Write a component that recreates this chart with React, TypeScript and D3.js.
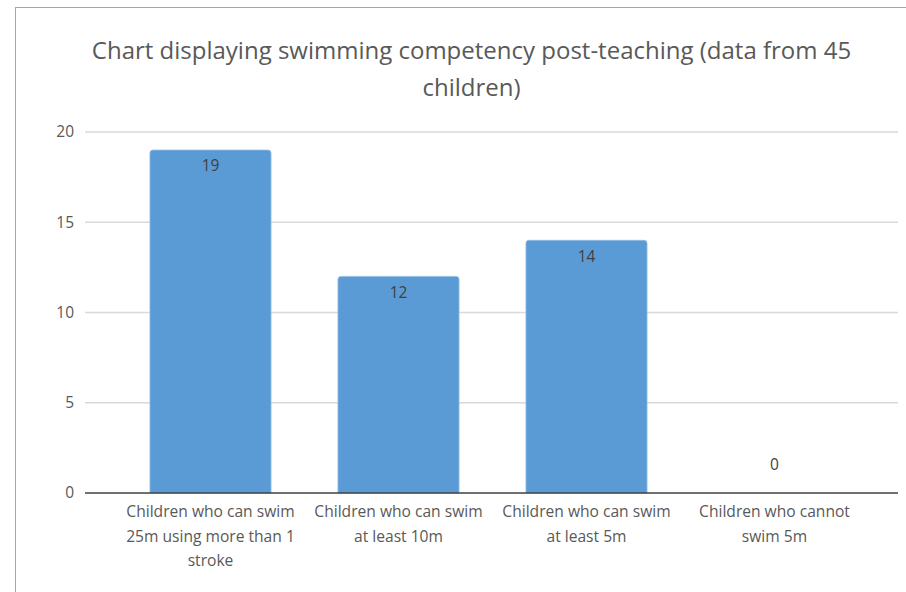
import React from 'react';
import * as d3 from 'd3';

const categories = [
  ['Children who can swim', '25m using more than 1', 'stroke'],
  ['Children who can swim', 'at least 10m'],
  ['Children who can swim', 'at least 5m'],
  ['Children who cannot', 'swim 5m'],
];
const values = [19, 12, 14, 0];
const yTicks = [0, 5, 10, 15, 20];
const titleLines = ['Chart displaying swimming competency post-teaching (data from 45', 'children)'];

const W = 906;
const H = 592;
const FONT = '"Open Sans", "Noto Sans", sans-serif';

export default function App() {
  const gridLeft = 85;
  const gridRight = 898;
  const y = d3.scaleLinear().domain([0, 20]).range([493, 132]);
  const x = d3
    .scaleBand<number>()
    .domain(values.map((_, i) => i))
    .range([116.5, 868.5])
    .paddingInner(0.356)
    .paddingOuter(0.178);

  const barPath = (x0: number, w: number, top: number, bottom: number) => {
    const r = Math.min(3, (bottom - top) / 2);
    if (bottom - top <= 0) return '';
    return `M${x0},${bottom}V${top + r}Q${x0},${top} ${x0 + r},${top}H${x0 + w - r}Q${x0 + w},${top} ${x0 + w},${top + r}V${bottom}Z`;
  };

  return (
    <svg width={W} height={H} style={{ position: 'absolute', left: 0, top: 0, background: '#fff' }}>
      <rect x={0} y={0} width={W} height={H} fill="#fff" />
      <rect x={15.5} y={7.5} width={W + 20} height={H + 20} fill="#fff" stroke="#a6a6a6" strokeWidth={1} />

      {titleLines.map((t, i) => (
        <text
          key={i}
          x={471.5}
          y={59 + i * 37}
          textAnchor="middle"
          fontFamily={FONT}
          fontSize={24}
          fill="#595959"
        >
          {t}
        </text>
      ))}

      {yTicks.map((t) => (
        <g key={t}>
          {t !== 0 && (
            <line x1={gridLeft} x2={gridRight} y1={y(t)} y2={y(t)} stroke="#d9d9d9" strokeWidth={1.3} />
          )}
          <text
            x={74}
            y={y(t)}
            dy="0.35em"
            textAnchor="end"
            fontFamily={FONT}
            fontSize={15.5}
            fill="#595959"
          >
            {t}
          </text>
        </g>
      ))}

      {values.map((v, i) => {
        const bx = x(i)!;
        const bw = x.bandwidth();
        return (
          <g key={i}>
            <path d={barPath(bx, bw, y(v), y(0))} fill="#5b9bd5" stroke="#8fbce6" strokeWidth={0.8} />
            <text
              x={bx + bw / 2}
              y={v > 0 ? y(v) + 16 : y(0) - 28}
              dy="0.35em"
              textAnchor="middle"
              fontFamily={FONT}
              fontSize={15.5}
              fill="#404040"
            >
              {v}
            </text>
            {categories[i].map((line, j) => (
              <text
                key={j}
                x={bx + bw / 2}
                y={512 + j * 24.3}
                dy="0.35em"
                textAnchor="middle"
                fontFamily={FONT}
                fontSize={15.6}
                fill="#595959"
              >
                {line}
              </text>
            ))}
          </g>
        );
      })}

      <line x1={gridLeft} x2={gridRight} y1={y(0)} y2={y(0)} stroke="#404040" strokeWidth={1.5} />
    </svg>
  );
}
